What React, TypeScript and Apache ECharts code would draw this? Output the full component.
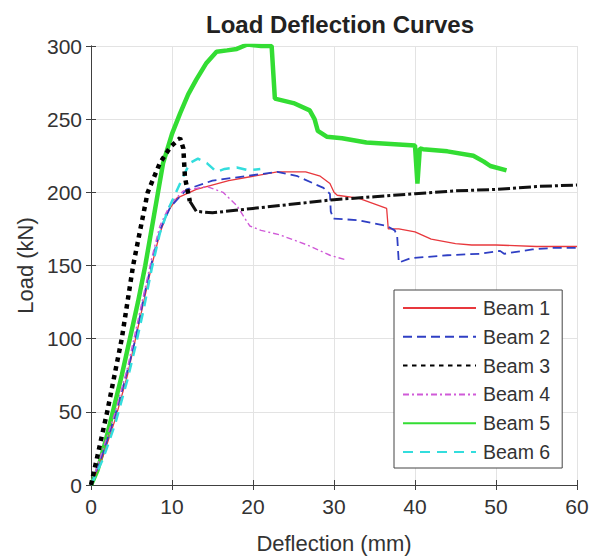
import React, { useEffect, useRef } from "react";
import * as echarts from "echarts";

const xTicks = [0, 10, 20, 30, 40, 50, 60];
const yTicks = [0, 50, 100, 150, 200, 250, 300];

const beam1: number[][] = [[0,0],[1.5,20],[3,45],[4.5,75],[5.5,100],[6.5,125],[7.5,150],[8.5,172],[9.5,187],[10.6,196],[13,202],[17,208],[20,211],[23,214],[26.5,214],[28.3,211],[29.5,206],[30,200],[30.4,198],[33,196],[36.5,189],[36.7,175],[38,175],[40,173],[42,168],[45,165],[47,164],[50,164],[55,163],[60,163]];
const beam2: number[][] = [[0,0],[1.5,22],[3,48],[4.5,78],[5.5,100],[6.5,128],[7.5,152],[8.5,174],[9.8,190],[11.8,202],[15,208],[19,211],[23,214],[25.5,211],[28.7,203],[29.5,199],[29.6,187],[29.9,182],[33,181],[36.5,177],[37.5,174],[37.8,170],[38,152],[39.5,155],[44,157],[48,158],[50.5,160],[51,158],[54.5,161],[57,162],[60,162]];
const beam3Pre: number[][] = [[0,0],[1,25],[2,50],[2.9,75],[3.8,100],[4.5,125],[5.2,150],[6.1,175],[7,200],[8.5,220],[9.8,231],[11,237],[11.4,230],[11.6,210],[12.2,194]];
const beam3Post: number[][] = [[12.2,194],[13,187],[15,186],[20,189],[25,192],[30,195],[35,197],[40,199],[45,201],[50,202],[55,204],[60,205]];
const beam4: number[][] = [[0,0],[1.5,25],[3,50],[4.5,80],[5.5,105],[6.5,130],[7.5,155],[8.5,177],[9.8,192],[11.4,201],[14.3,204],[16.3,200],[18,191],[19.6,177],[21,174],[23.3,171],[26.7,164],[29.5,157],[31.4,154]];
const beam5: number[][] = [[0,0],[0.8,10],[1.8,30],[2.7,50],[3.8,75],[4.8,100],[5.8,125],[6.7,150],[7.8,185],[8.9,220],[10,240],[11,254],[12,267],[13,277],[14.2,288],[15.5,296],[16.8,297],[18,298],[19.3,301],[21,300],[22.3,300],[22.7,264],[25,261],[27,256],[27.6,250],[28,242],[29.1,238],[31,237],[34,234],[37,233],[40,232],[40.3,206],[40.6,230],[41,229.5],[44,228],[47.2,225],[48.5,221],[49.3,218],[51.3,215]];
const beam6: number[][] = [[0,0],[1.5,18],[3,42],[4.5,72],[5.5,95],[6.5,120],[7.5,148],[8.5,172],[9.5,188],[10.5,200],[11.4,211],[12.2,220],[13.2,223],[14.3,220],[15.5,214],[16.5,216],[18,217],[19.5,215],[20.9,216]];

const legendNames = ["Beam 1", "Beam 2", "Beam 3", "Beam 4", "Beam 5", "Beam 6"];

const FONT = "Liberation Sans, Arial, sans-serif";

export default function App() {
  const ref = useRef<HTMLDivElement>(null);
  useEffect(() => {
    if (!ref.current) return;
    const chart = echarts.init(ref.current, null, { renderer: "svg" });
    const line = (name: string, data: number[][], color: string, width: number, type: any, z = 2) => ({
      name,
      type: "line",
      data,
      symbol: "none",
      z,
      lineStyle: { color, width, type, cap: "butt" },
      itemStyle: { color },
    });
    const axisCommon = {
      axisLine: { show: true, lineStyle: { color: "#404040", width: 1 } },
      axisTick: { show: true, inside: true, length: 5, lineStyle: { color: "#404040" } },
    };
    chart.setOption({
      animation: false,
      backgroundColor: "#ffffff",
      title: {
        text: "Load Deflection Curves",
        left: 335,
        textAlign: "center",
        top: 7,
        textStyle: { fontFamily: FONT, fontSize: 24, fontWeight: "bold", color: "#222" },
      },
      grid: { left: 91, right: 16, top: 46, bottom: 71, containLabel: false },
      legend: {
        data: legendNames,
        orient: "vertical",
        left: 394,
        top: 290,
        backgroundColor: "#ffffff",
        borderColor: "#444",
        borderWidth: 1,
        borderRadius: 0,
        padding: [8, 12, 6, 8],
        itemWidth: 73,
        itemHeight: 14,
        itemGap: 8.8,
        itemStyle: { opacity: 0 },
        textStyle: { fontFamily: FONT, fontSize: 19.5, lineHeight: 20, color: "#333", padding: [0, 0, 0, 2] },
      },
      xAxis: [
        {
          type: "value",
          min: 0,
          max: 60,
          interval: 10,
          name: "Deflection (mm)",
          nameLocation: "middle",
          nameGap: 47,
          nameTextStyle: { fontFamily: FONT, fontSize: 22, color: "#333" },
          axisLabel: { fontFamily: FONT, fontSize: 21, color: "#333", margin: 11 },
          splitLine: { show: true, lineStyle: { color: "#e3e3e3", width: 1 } },
          ...axisCommon,
        },
        {
          type: "value",
          position: "top",
          min: 0,
          max: 60,
          interval: 10,
          axisLabel: { show: false },
          splitLine: { show: false },
          ...axisCommon,
        },
      ],
      yAxis: [
        {
          type: "value",
          min: 0,
          max: 300,
          interval: 50,
          name: "Load (kN)",
          nameLocation: "middle",
          nameGap: 55,
          nameTextStyle: { fontFamily: FONT, fontSize: 22, color: "#333" },
          axisLabel: { fontFamily: FONT, fontSize: 21, color: "#333", margin: 9 },
          splitLine: { show: true, lineStyle: { color: "#e3e3e3", width: 1 } },
          ...axisCommon,
        },
        {
          type: "value",
          position: "right",
          min: 0,
          max: 300,
          interval: 50,
          axisLabel: { show: false },
          splitLine: { show: false },
          ...axisCommon,
        },
      ],
      series: [
        line("Beam 1", beam1, "#e8383d", 1.3, "solid", 3),
        line("Beam 2", beam2, "#2f3fc4", 1.8, [9, 5], 3),
        line("Beam 3", beam3Pre, "#000000", 4.5, [4.5, 4.5], 4),
        line("Beam 3 post", beam3Post, "#111111", 3, [12, 3, 3, 3], 4),
        line("Beam 4", beam4, "#d05ad8", 1.4, [6, 3, 2, 3], 3),
        line("Beam 5", beam5, "#33dd33", 4.5, "solid", 2),
        line("Beam 6", beam6, "#33dddd", 2.5, [10, 7], 3),
      ],
    });
    return () => chart.dispose();
  }, []);
  return <div ref={ref} style={{ width: 593, height: 559, position: "absolute", left: 0, top: 0 }} />;
}
